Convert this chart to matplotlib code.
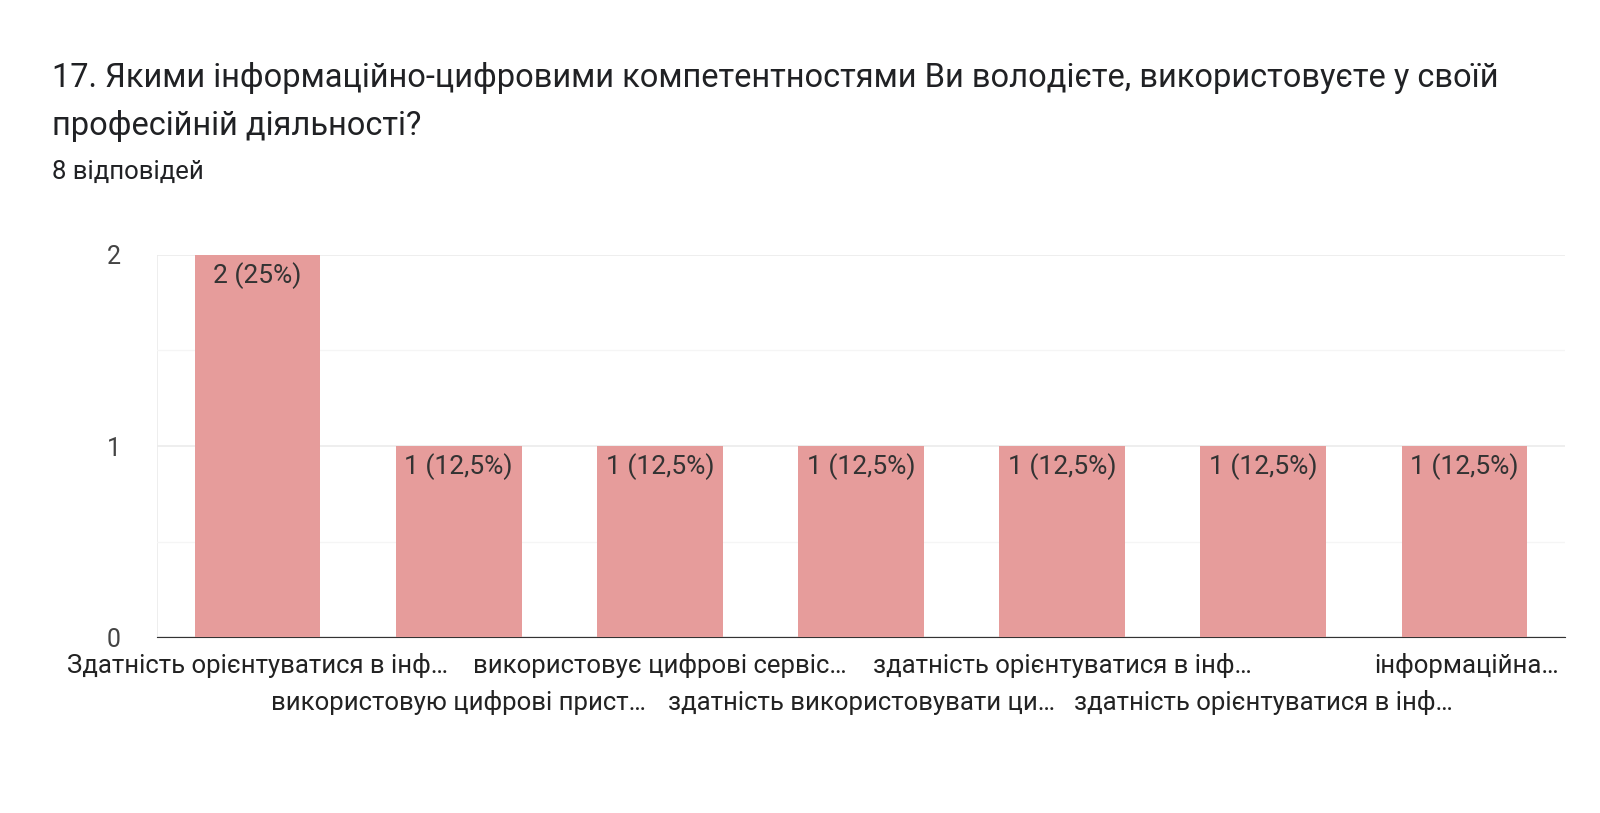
import matplotlib
matplotlib.use("Agg")
import matplotlib.pyplot as plt

categories = [
    "Здатність орієнтуватися в інф…",
    "використовую цифрові прист…",
    "використовує цифрові сервіс…",
    "здатність використовувати ци…",
    "здатність орієнтуватися в інф…",
    "здатність орієнтуватися в інф…",
    "інформаційна…",
]
values = [2, 1, 1, 1, 1, 1, 1]
labels = ["2 (25%)", "1 (12,5%)", "1 (12,5%)", "1 (12,5%)", "1 (12,5%)", "1 (12,5%)", "1 (12,5%)"]

plt.rcParams["font.family"] = "Roboto"
fig = plt.figure(figsize=(16, 8.13), dpi=100)
ax = fig.add_axes([157 / 1600, 1 - 637 / 813, 1408 / 1600, 382 / 813])

x = list(range(len(values)))
ax.bar(x, values, width=0.625, color="#e69c9b", zorder=3)
for xi, v, lab in zip(x, values, labels):
    ax.text(xi, v - 0.04, lab, ha="center", va="top", fontsize=19, color="#333333", zorder=4)

ax.set_xlim(-0.5, 6.5)
ax.set_ylim(0, 2)
ax.set_yticks([0, 1, 2])
ax.set_yticks([0.5, 1.5], minor=True)
ax.grid(axis="y", which="major", color="#ebebeb", lw=1.2, zorder=0)
ax.grid(axis="y", which="minor", color="#f5f5f5", lw=1, zorder=0)
ax.axvline(-0.5, color="#ebebeb", lw=1.2, zorder=0)
for s in ["top", "right", "left"]:
    ax.spines[s].set_visible(False)
ax.spines["bottom"].set_color("#333333")
ax.tick_params(axis="y", which="both", length=0, labelsize=18, labelcolor="#444444", pad=26)
ax.tick_params(axis="x", length=0)
ax.set_xticks(x)
ax.set_xticklabels([])
for xi, cat in zip(x, categories):
    yoff = -0.147 if xi % 2 == 0 else -0.345
    ha = "right" if xi == 6 else "center"
    px = 6.47 if xi == 6 else xi
    ax.text(px, yoff, cat, ha=ha, va="center", fontsize=18.5, color="#222222",
            transform=ax.transData, clip_on=False)

fig.text(52 / 1600, 1 - 78 / 813,
         "17. Якими інформаційно-цифровими компетентностями Ви володієте, використовуєте у своїй",
         fontsize=23.5, color="#202124", va="center")
fig.text(52 / 1600, 1 - 126 / 813, "професійній діяльності?", fontsize=23.5, color="#202124", va="center")
fig.text(52 / 1600, 1 - 172 / 813, "8 відповідей", fontsize=18.5, color="#202124", va="center")

fig.savefig("out.png", dpi=100)
